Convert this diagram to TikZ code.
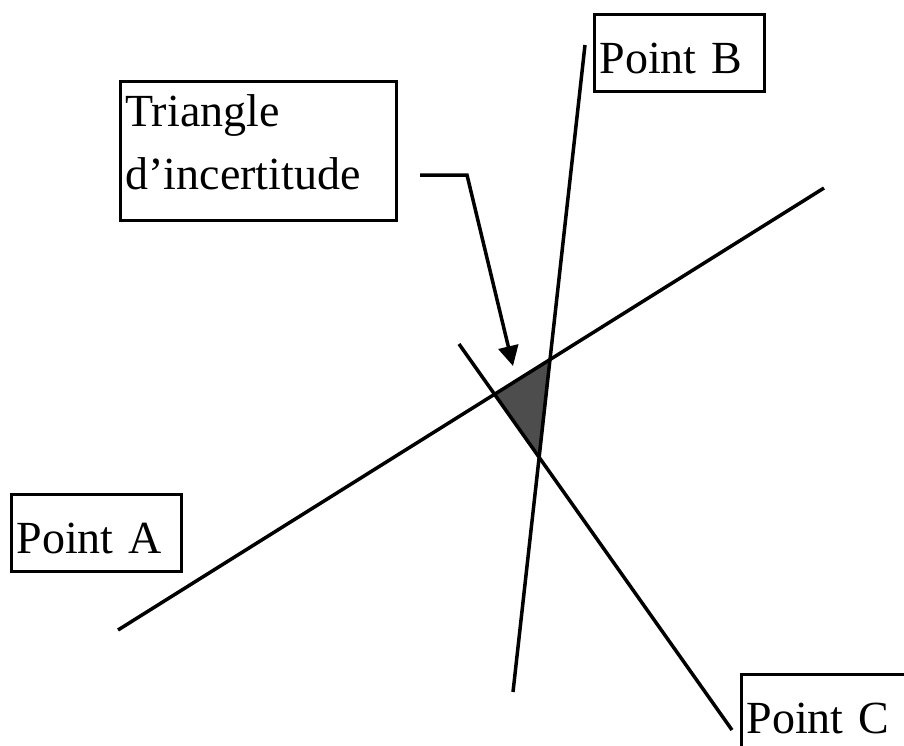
\documentclass[tikz,border=0pt]{standalone}
\usepackage{fontspec}
\setmainfont{Liberation Serif}
\usetikzlibrary{arrows.meta,positioning,calc}
\definecolor{darkfill}{HTML}{4D4D4D}

\begin{document}
\begin{tikzpicture}[
    x=1pt, y=-1pt,
    tag/.style={rectangle, draw=black, line width=3pt, anchor=north west, align=left, font=\fontsize{46}{63}\selectfont, inner xsep=5pt},
    pointbox/.style={tag, text width=160pt, text height=56pt, text depth=15pt, inner ysep=3pt},
    bearing/.style={line width=3.5pt},
    arrow/.style={line width=3.5pt, -{Triangle[length=20pt,width=20pt]}}
]
\clip (0,0) rectangle (904,745);

% Ends of the three lines
\coordinate (a1) at (118,630);
\coordinate (a2) at (824,188);
\coordinate (b1) at (513,692);
\coordinate (b2) at (585,45);
\coordinate (c1) at (459,344);
\coordinate (c2) at (732,730);

% Shaded triangle
\coordinate (ab) at (intersection of a1--a2 and b1--b2);
\coordinate (bc) at (intersection of b1--b2 and c1--c2);
\coordinate (ca) at (intersection of c1--c2 and a1--a2);
\fill[darkfill] (ab) -- (bc) -- (ca) -- cycle;

% Lines
\draw[bearing] (a1) -- (a2);
\draw[bearing] (b1) -- (b2);
\draw[bearing] (c1) -- (c2);

% Labels
\node[tag, text width=266pt, inner ysep=13pt] (tri) at (119,80) {Triangle\\d'incertitude\rule[-18pt]{0pt}{1pt}};
\node[pointbox] (ptA) at (10,493) {Point A};
\node[pointbox] (ptB) at (593,13) {Point B};
\node[pointbox] (ptC) at (740,673) {Point C};

% Arrow
\coordinate (tail) at (420,175);
\coordinate (bend) at (467,175);
\coordinate (tip) at (513,366);
\draw[arrow] (tail) -- (bend) -- (tip);

\end{tikzpicture}
\end{document}
